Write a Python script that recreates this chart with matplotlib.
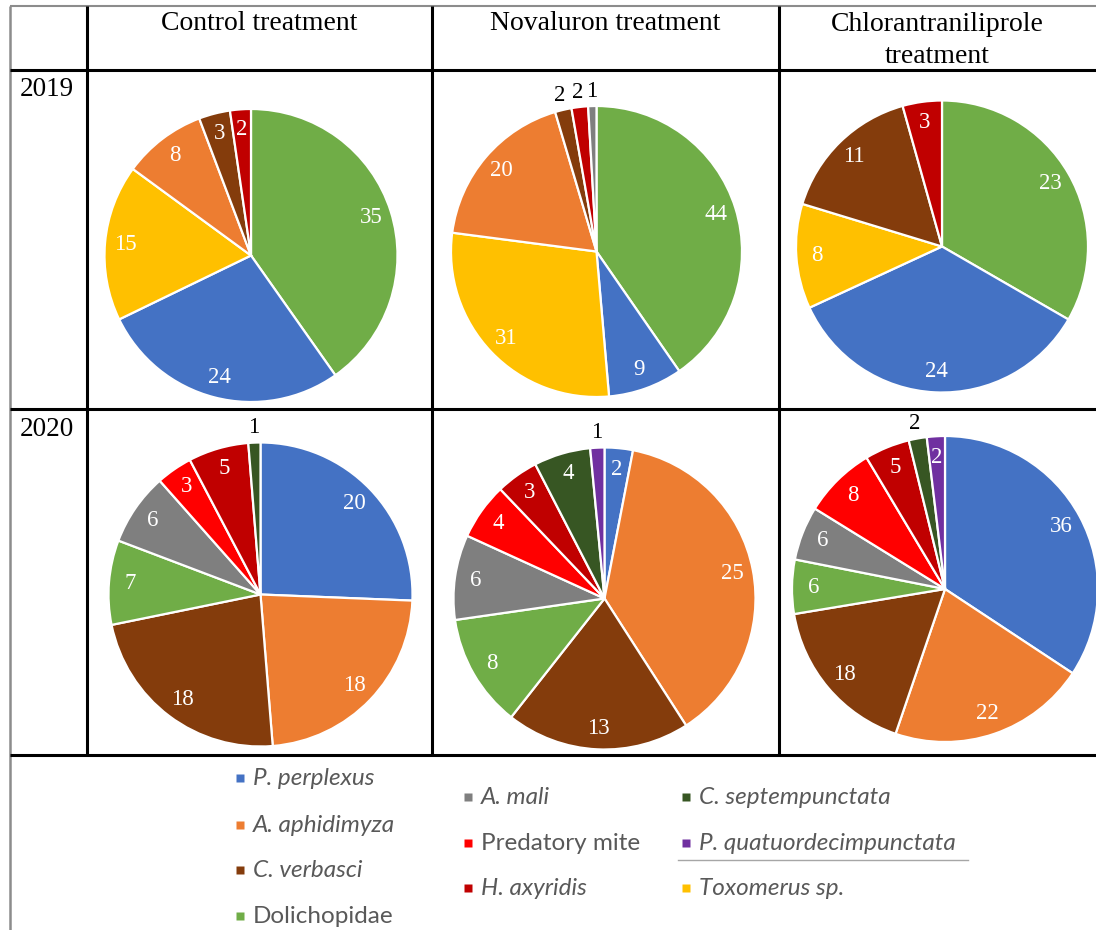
import matplotlib
matplotlib.use('Agg')
import matplotlib.pyplot as plt
import numpy as np

W, H = 1096, 930

# species -> slice colour
COLORS = {
    'P. perplexus': '#4472C4',
    'A. aphidimyza': '#ED7D31',
    'C. verbasci': '#843C0C',
    'Dolichopidae': '#70AD47',
    'A. mali': '#7F7F7F',
    'Predatory mite': '#FF0000',
    'H. axyridis': '#C00000',
    'C. septempunctata': '#375623',
    'P. quatuordecimpunctata': '#7030A0',
    'Toxomerus sp.': '#FFC000',
}

TREATMENTS = ['Control treatment', 'Novaluron treatment',
              'Chlorantraniliprole\ntreatment']
YEARS = ['2019', '2020']

# slice order (clockwise from 12 o'clock) and counts per treatment
ORDER_2019 = ['Dolichopidae', 'P. perplexus', 'Toxomerus sp.', 'A. aphidimyza',
              'C. verbasci', 'H. axyridis', 'A. mali']
CONTROL_2019 = [35, 24, 15, 8, 3, 2, 0]
NOVALURON_2019 = [44, 9, 31, 20, 2, 2, 1]
CHLOR_2019 = [23, 24, 8, 0, 11, 3, 0]

ORDER_2020 = ['P. perplexus', 'A. aphidimyza', 'C. verbasci', 'Dolichopidae',
              'A. mali', 'Predatory mite', 'H. axyridis', 'C. septempunctata',
              'P. quatuordecimpunctata']
CONTROL_2020 = [20, 18, 18, 7, 6, 3, 5, 1, 0]
NOVALURON_2020 = [2, 25, 13, 8, 6, 4, 3, 4, 1]
CHLOR_2020 = [36, 22, 18, 6, 6, 8, 5, 2, 2]

# labels that sit outside their (thin) slice
OUTSIDE = {
    (0, 1): ['C. verbasci', 'H. axyridis', 'A. mali'],
    (1, 0): ['C. septempunctata'],
    (1, 1): ['P. quatuordecimpunctata'],
    (1, 2): ['C. septempunctata'],
}

LEGEND_COLS = [
    ['P. perplexus', 'A. aphidimyza', 'C. verbasci', 'Dolichopidae'],
    ['A. mali', 'Predatory mite', 'H. axyridis'],
    ['C. septempunctata', 'P. quatuordecimpunctata', 'Toxomerus sp.'],
]
UPRIGHT = {'Dolichopidae', 'Predatory mite'}

panels = {
    (0, 0): (ORDER_2019, CONTROL_2019),
    (0, 1): (ORDER_2019, NOVALURON_2019),
    (0, 2): (ORDER_2019, CHLOR_2019),
    (1, 0): (ORDER_2020, CONTROL_2020),
    (1, 1): (ORDER_2020, NOVALURON_2020),
    (1, 2): (ORDER_2020, CHLOR_2020),
}
# pie centre / radius in pixels
GEOM = {
    (0, 0): (251, 255.5, 146.5),
    (0, 1): (596.5, 251.5, 145.5),
    (0, 2): (942, 246.5, 146),
    (1, 0): (260.5, 594.5, 152),
    (1, 1): (604.5, 598.5, 151),
    (1, 2): (945, 589, 153),
}

SERIF = 'Liberation Serif'
fig = plt.figure(figsize=(W / 100, H / 100), dpi=100)

bg = fig.add_axes([0, 0, 1, 1])
bg.set_xlim(0, W)
bg.set_ylim(H, 0)
bg.axis('off')

# table grid
GRAY = '#8c8c8c'
bg.plot([10, W], [6, 6], color=GRAY, lw=1.5, solid_capstyle='butt')
bg.plot([10, 10], [6, H], color=GRAY, lw=1.8, solid_capstyle='butt')
for y in (70, 409, 755):
    bg.plot([10, W], [y, y], color='black', lw=2.2, solid_capstyle='butt')
for x in (87, 432, 779):
    bg.plot([x, x], [6, 755], color='black', lw=2.2, solid_capstyle='butt')

# headers
for x, t in zip((259.5, 605.5, 937.5), TREATMENTS):
    bg.text(x, 40.5 if '\n' in t else 23, t, ha='center', va='center',
            family=SERIF, fontsize=20, linespacing=1.35)
for y, t in zip((89, 429), YEARS):
    bg.text(20, y, t, ha='left', va='center', family=SERIF, fontsize=19.5)

for key, (order, vals) in panels.items():
    cx, cy, r = GEOM[key]
    ax = fig.add_axes([(cx - r) / W, 1 - (cy + r) / H, 2 * r / W, 2 * r / H])
    names = [n for n, v in zip(order, vals) if v > 0]
    counts = [v for v in vals if v > 0]
    wedges, _ = ax.pie(counts, colors=[COLORS[n] for n in names],
                       startangle=90, counterclock=False,
                       wedgeprops=dict(edgecolor='white', linewidth=1.6))
    ax.set_xlim(-1, 1)
    ax.set_ylim(-1, 1)
    outside = OUTSIDE.get(key, [])
    for w, n, c in zip(wedges, names, counts):
        th = np.deg2rad((w.theta1 + w.theta2) / 2)
        out = n in outside
        d = 1.1 if out else 0.86
        ax.text(d * np.cos(th), d * np.sin(th), str(c), ha='center',
                va='center', family=SERIF, fontsize=16.5,
                color='black' if out else 'white')

# legend
COL_X = (240, 468, 686)
COL_Y = ((778, 825, 870, 916), (797, 843, 888), (797, 843, 888))
for x, ys, names in zip(COL_X, COL_Y, LEGEND_COLS):
    for y, n in zip(ys, names):
        bg.plot(x, y, 's', ms=6, color=COLORS[n], mec='none')
        bg.text(x + 13, y, n, ha='left', va='center', family='Lato',
                style='normal' if n in UPRIGHT else 'italic',
                fontsize=17.5, color='#595959')
bg.plot([678, 968], [860, 860], color='#a6a6a6', lw=1)

fig.savefig('out.png', dpi=100)
